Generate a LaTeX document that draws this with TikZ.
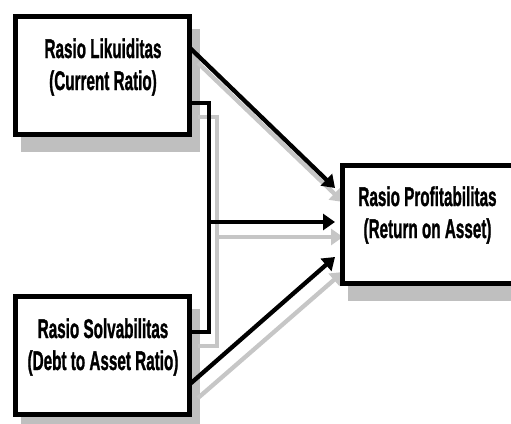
\documentclass[tikz,border=0pt]{standalone}
\usepackage{fontspec}
\setmainfont{Liberation Sans}
\newfontfamily\boxfont[BoldFeatures={FakeBold=1.5}]{Liberation Sans}
\usetikzlibrary{arrows.meta}
\newcommand{\nline}[1]{\scalebox{0.565}[1]{\boxfont\fontsize{27}{32}\selectfont\bfseries #1}}
\begin{document}
\begin{tikzpicture}[x=1pt,y=-1pt,
  box/.style={draw=black, line width=5pt, fill=white, minimum width=174pt, minimum height=118pt, inner sep=0pt, outer sep=0pt},
  boxshadow/.style={fill=gray!50, draw=none, minimum width=179pt, minimum height=123pt, inner sep=0pt, outer sep=0pt},
  boxtext/.style={align=center, font=\fontsize{27}{32}\selectfont, inner sep=0pt, anchor=base},
  link/.style={line width=4.3pt, draw=black, -{Triangle[length=12pt,width=16pt]}},
  linkshadow/.style={link, draw=gray!45},
  bracket/.style={line width=4.3pt, draw=black},
  bracketshadow/.style={bracket, draw=gray!45}]
\useasboundingbox (0,0) rectangle (511,423);
\clip (0,0) rectangle (511,423);
% coordinates
\coordinate (p1) at (190,48);
\coordinate (q1) at (335,188);
\coordinate (p1s) at (198,63);
\coordinate (q1s) at (343,202);
\coordinate (k1) at (190,103);
\coordinate (k2) at (209,103);
\coordinate (k3) at (209,332);
\coordinate (k4) at (190,332);
\coordinate (km) at (209,222);
\coordinate (q2) at (335,222);
\coordinate (k1s) at (198,117);
\coordinate (k2s) at (217,117);
\coordinate (k3s) at (217,346);
\coordinate (k4s) at (198,346);
\coordinate (kms) at (217,237);
\coordinate (q2s) at (343,237);
\coordinate (p3) at (190,384);
\coordinate (q3) at (335,257);
\coordinate (p3s) at (198,398);
\coordinate (q3s) at (343,272);
% shadows
\node[boxshadow] (s1) at (110.5,90.5) {};
\node[boxshadow] (s2) at (110.5,370.5) {};
\node[boxshadow] (s3) at (437.5,239) {};
\draw[linkshadow] (p1s) -- (q1s);
\draw[bracketshadow] (k1s) -- (k2s) -- (k3s) -- (k4s);
\draw[linkshadow] (kms) -- (q2s);
\draw[linkshadow] (p3s) -- (q3s);
% black connectors
\draw[link] (p1) -- (q1);
\draw[bracket] (k1) -- (k2) -- (k3) -- (k4);
\draw[link] (km) -- (q2);
\draw[link] (p3) -- (q3);
% boxes
\node[box] (b1) at (102.5,75.5) {};
\node[box] (b2) at (102.5,355.5) {};
\node[box] (b3) at (429.5,224) {};
\node[boxtext] (t1) at (103,90) {\nline{Rasio Likuiditas}\\\nline{(Current Ratio)}};
\node[boxtext] (t2) at (103,370) {\nline{Rasio Solvabilitas}\\\nline{(Debt to Asset Ratio)}};
\node[boxtext] (t3) at (427.5,238) {\nline{Rasio Profitabilitas}\\\nline{(Return on Asset)}};
\end{tikzpicture}
\end{document}
